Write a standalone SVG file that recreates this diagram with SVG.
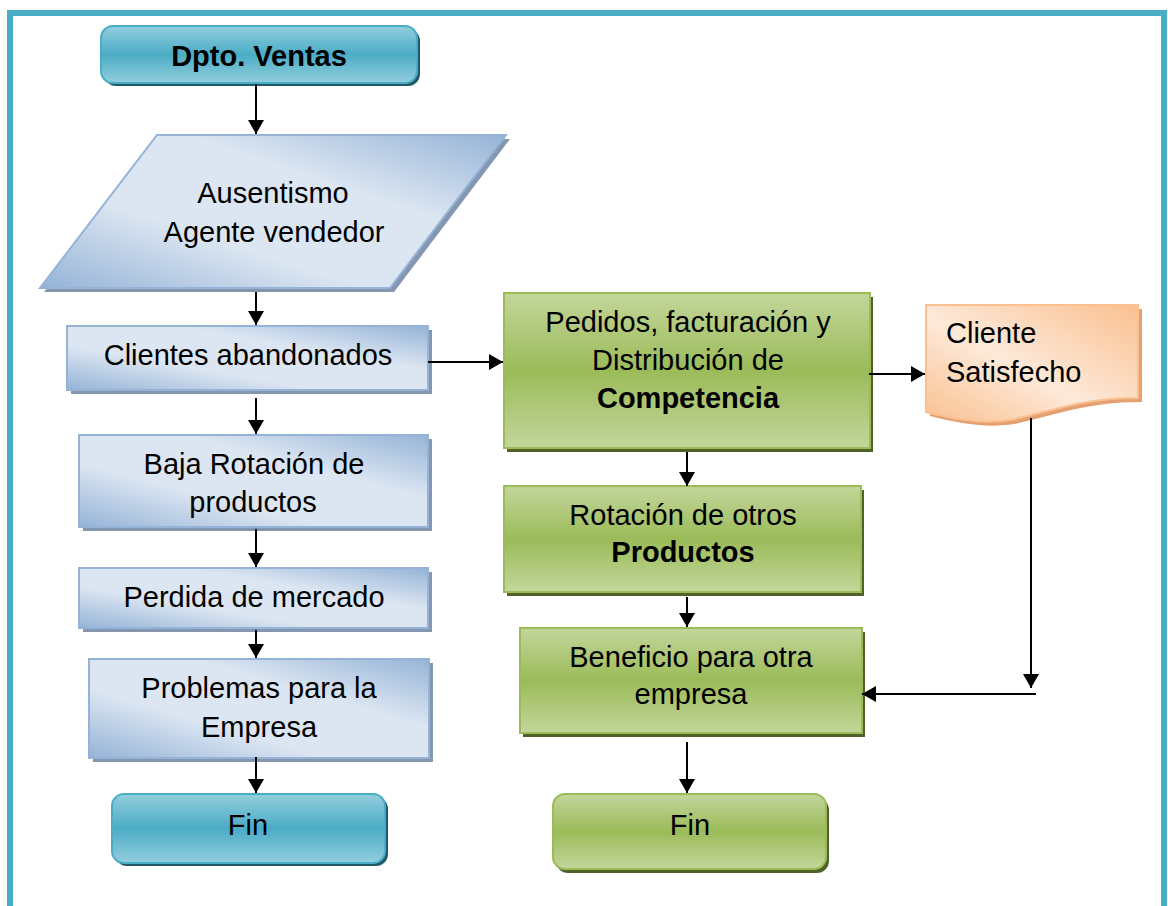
<svg xmlns="http://www.w3.org/2000/svg" width="1168" height="906" viewBox="0 0 1168 906">
<defs>
<linearGradient id="gTeal" x1="0" y1="0" x2="0" y2="1">
<stop offset="0" stop-color="#93CEDD"/><stop offset="0.5" stop-color="#4BACC6"/><stop offset="1" stop-color="#93CEDD"/>
</linearGradient>
<linearGradient id="gBlue" x1="0" y1="1" x2="1" y2="0">
<stop offset="0" stop-color="#95B3D7"/><stop offset="0.35" stop-color="#DCE6F2"/><stop offset="0.65" stop-color="#DCE6F2"/><stop offset="1" stop-color="#95B3D7"/>
</linearGradient>
<linearGradient id="gGreen" x1="0" y1="0" x2="0" y2="1">
<stop offset="0" stop-color="#C3D69B"/><stop offset="0.5" stop-color="#9BBB59"/><stop offset="1" stop-color="#C3D69B"/>
</linearGradient>
<linearGradient id="gOrange" x1="0" y1="1" x2="1" y2="0">
<stop offset="0" stop-color="#FAC090"/><stop offset="0.45" stop-color="#FDE9D9"/><stop offset="1" stop-color="#FAC090"/>
</linearGradient>
<marker id="arr" markerUnits="userSpaceOnUse" markerWidth="15" markerHeight="16" refX="14" refY="8" orient="auto">
<path d="M0,0 L14,8 L0,16 Z" fill="#000"/>
</marker>
<style>
text{font-family:"Liberation Sans",Arial,sans-serif;font-size:29px;fill:#000;text-anchor:middle}
.b{font-weight:bold}
.l{text-anchor:start}
.teal{fill:url(#gTeal);stroke:#4BACC6;stroke-width:2}
.tealS{fill:#215968}
.blue{fill:url(#gBlue);stroke:#95B3D7;stroke-width:2}
.blueS{fill:#8496B0}
.green{fill:url(#gGreen);stroke:#9BBB59;stroke-width:2}
.greenS{fill:#4F6228}
.orange{fill:url(#gOrange);stroke:#FAC090;stroke-width:2}
.orangeS{fill:#E4A070}
.c{stroke:#000;stroke-width:2;fill:none}
</style>
</defs>
<rect width="1168" height="906" fill="#fff"/>
<rect x="10" y="13" width="1154" height="950" fill="none" stroke="#4BACC6" stroke-width="6"/>

<g id="n-dpto">
<rect x="104" y="29" width="316" height="57" rx="12" class="tealS"/>
<rect x="101" y="26" width="316" height="57" rx="12" class="teal"/>
<text x="259" y="66" class="b">Dpto. Ventas</text>
</g>
<g id="n-ausentismo">
<polygon points="161,139 510,139 394,292 44,292" class="blueS"/>
<polygon points="157,135 506,135 390,288 40,288" class="blue"/>
<text x="273" y="203">Ausentismo</text>
<text x="274" y="242">Agente vendedor</text>
</g>
<g id="n-clientes">
<rect x="71" y="330" width="361" height="64" class="blueS"/>
<rect x="67" y="326" width="361" height="64" class="blue"/>
<text x="248" y="365">Clientes abandonados</text>
</g>
<g id="n-baja">
<rect x="83" y="439" width="349" height="92" class="blueS"/>
<rect x="79" y="435" width="349" height="92" class="blue"/>
<text x="254" y="474">Baja Rotación de</text>
<text x="253" y="512">productos</text>
</g>
<g id="n-perdida">
<rect x="83" y="572" width="349" height="60" class="blueS"/>
<rect x="79" y="568" width="349" height="60" class="blue"/>
<text x="254" y="607">Perdida de mercado</text>
</g>
<g id="n-problemas">
<rect x="93" y="663" width="340" height="99" class="blueS"/>
<rect x="89" y="659" width="340" height="99" class="blue"/>
<text x="259" y="698">Problemas para la</text>
<text x="259" y="737">Empresa</text>
</g>
<g id="n-fin1">
<rect x="115" y="797" width="273" height="69" rx="12" class="tealS"/>
<rect x="112" y="794" width="273" height="69" rx="12" class="teal"/>
<text x="248" y="835">Fin</text>
</g>
<g id="n-pedidos">
<rect x="507" y="297" width="366" height="155" class="greenS"/>
<rect x="504" y="293" width="366" height="155" class="green"/>
<text x="688" y="332">Pedidos, facturación y</text>
<text x="688" y="370">Distribución de</text>
<text x="688" y="408" class="b">Competencia</text>
</g>
<g id="n-cliente">
<path d="M930,309 L1142,309 L1142,402 C1084,402 1054,416 1014,424 C984,429 954,422 930,416 Z" class="orangeS"/>
<path d="M926,305 L1138,305 L1138,398 C1080,398 1050,412 1010,420 C980,425 950,418 926,412 Z" class="orange"/>
<text x="946" y="343" class="l">Cliente</text>
<text x="946" y="382" class="l">Satisfecho</text>
</g>
<g id="n-rotacion">
<rect x="507" y="490" width="357" height="106" class="greenS"/>
<rect x="504" y="486" width="357" height="106" class="green"/>
<text x="683" y="525">Rotación de otros</text>
<text x="683" y="562" class="b">Productos</text>
</g>
<g id="n-beneficio">
<rect x="523" y="632" width="342" height="105" class="greenS"/>
<rect x="520" y="628" width="342" height="105" class="green"/>
<text x="691" y="667">Beneficio para otra</text>
<text x="691" y="704">empresa</text>
</g>
<g id="n-fin2">
<rect x="556" y="798" width="273" height="75" rx="12" class="greenS"/>
<rect x="553" y="794" width="273" height="75" rx="12" class="green"/>
<text x="690" y="835">Fin</text>
</g>

<g id="connectors">
<line x1="256" y1="84" x2="256" y2="134" class="c" marker-end="url(#arr)"/>
<line x1="256" y1="292" x2="256" y2="325" class="c" marker-end="url(#arr)"/>
<line x1="256" y1="398" x2="256" y2="434" class="c" marker-end="url(#arr)"/>
<line x1="256" y1="529" x2="256" y2="567" class="c" marker-end="url(#arr)"/>
<line x1="256" y1="630" x2="256" y2="658" class="c" marker-end="url(#arr)"/>
<line x1="256" y1="757" x2="256" y2="793" class="c" marker-end="url(#arr)"/>
<line x1="428" y1="362" x2="503" y2="362" class="c" marker-end="url(#arr)"/>
<line x1="869" y1="374" x2="925" y2="374" class="c" marker-end="url(#arr)"/>
<line x1="687" y1="452" x2="687" y2="486" class="c" marker-end="url(#arr)"/>
<line x1="687" y1="597" x2="687" y2="627" class="c" marker-end="url(#arr)"/>
<line x1="687" y1="742" x2="687" y2="793" class="c" marker-end="url(#arr)"/>
<line x1="1031" y1="418" x2="1031" y2="688" class="c" marker-end="url(#arr)"/>
<line x1="1036" y1="694" x2="862" y2="694" class="c" marker-end="url(#arr)"/>
</g>
</svg>
